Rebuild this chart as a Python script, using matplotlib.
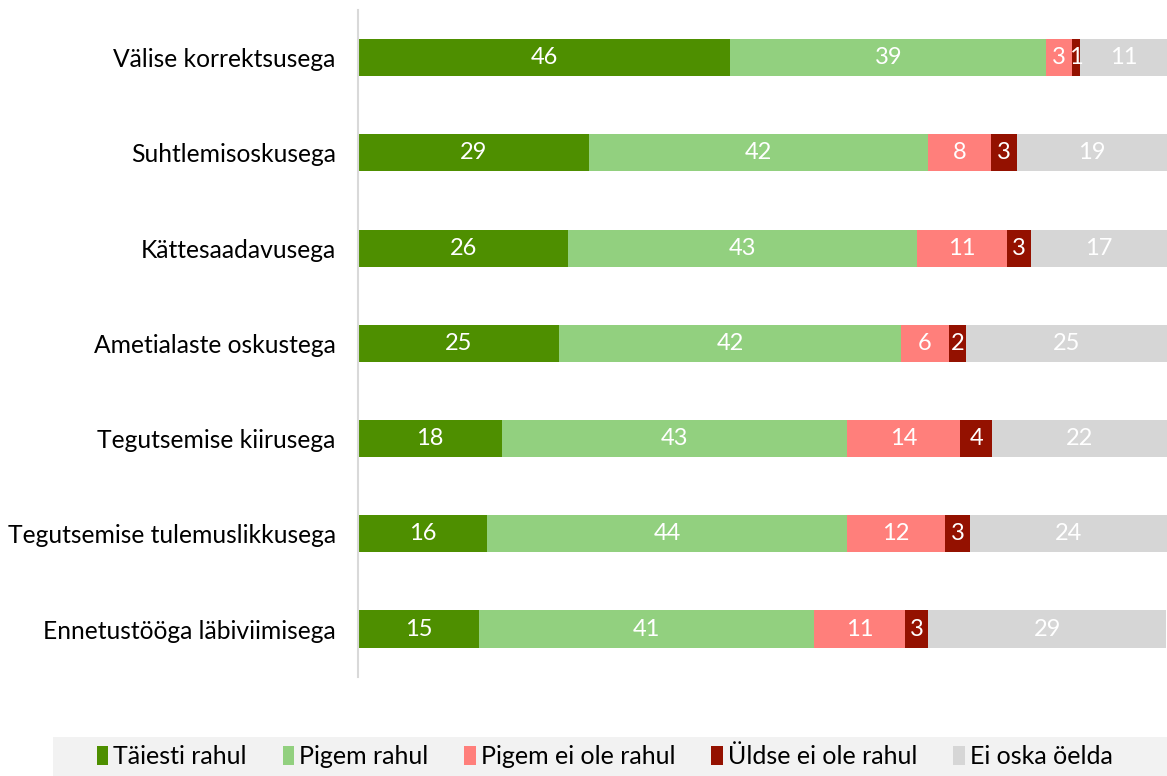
import matplotlib
matplotlib.use("Agg")
import matplotlib.pyplot as plt
from matplotlib.patches import Patch, Rectangle

# data (percent), top row first
categories = ["Välise korrektsusega", "Suhtlemisoskusega", "Kättesaadavusega",
              "Ametialaste oskustega", "Tegutsemise kiirusega",
              "Tegutsemise tulemuslikkusega", "Ennetustööga läbiviimisega"]
taiesti_rahul = [46.0, 28.6, 26.0, 24.9, 17.8, 16.0, 15.0]
pigem_rahul = [39.1, 41.8, 43.1, 42.2, 42.7, 44.4, 41.4]
pigem_ei_ole = [3.1, 7.9, 11.1, 6.0, 13.9, 12.2, 11.2]
uldse_ei_ole = [1.0, 3.1, 3.0, 2.0, 4.0, 3.1, 2.9]
ei_oska = [10.8, 18.6, 16.8, 24.9, 21.6, 24.3, 29.4]

series_names = ["Täiesti rahul", "Pigem rahul", "Pigem ei ole rahul",
                "Üldse ei ole rahul", "Ei oska öelda"]
colors = ["#4E8F00", "#92D07F", "#FF7F7B", "#941100", "#D6D6D6"]

plt.rcParams["font.family"] = ["Lato", "DejaVu Sans"]

fig = plt.figure(figsize=(11.67, 7.76), dpi=100)
ax = fig.add_axes([0.3068, 0.128, 0.6932, 0.859])

series = [taiesti_rahul, pigem_rahul, pigem_ei_ole, uldse_ei_ole, ei_oska]
y = range(len(categories))
left = [0.0] * len(categories)
for vals, col in zip(series, colors):
    ax.barh(y, vals, left=left, height=0.39, color=col, linewidth=0)
    for i, v in enumerate(vals):
        ax.text(left[i] + v / 2, i, f"{v:.0f}", ha="center", va="center",
                color="white", fontsize=17)
    left = [a + b for a, b in zip(left, vals)]

ax.set_xlim(0, 100)
ax.set_ylim(len(categories) - 0.5, -0.5)
ax.set_yticks(list(y))
ax.set_yticklabels(categories, fontsize=17.7)
ax.tick_params(axis="y", length=0, pad=16)
ax.set_xticks([])
for s in ["top", "right", "bottom"]:
    ax.spines[s].set_visible(False)
ax.spines["left"].set_color("#D9D9D9")
ax.spines["left"].set_linewidth(1.5)

# legend strip at the bottom
fig.patches.append(Rectangle((0.045, 0.0), 0.955, 0.05, transform=fig.transFigure,
                             facecolor="#F2F2F2", edgecolor="none", zorder=0))
handles = [Patch(facecolor=c, edgecolor="none") for c in colors]
fig.legend(handles, series_names, loc="center", bbox_to_anchor=(0.518, 0.025),
           ncol=5, frameon=False, fontsize=18, handlelength=0.45, handleheight=0.75,
           handletextpad=0.2, columnspacing=1.45)

fig.savefig("out.png", dpi=100)
